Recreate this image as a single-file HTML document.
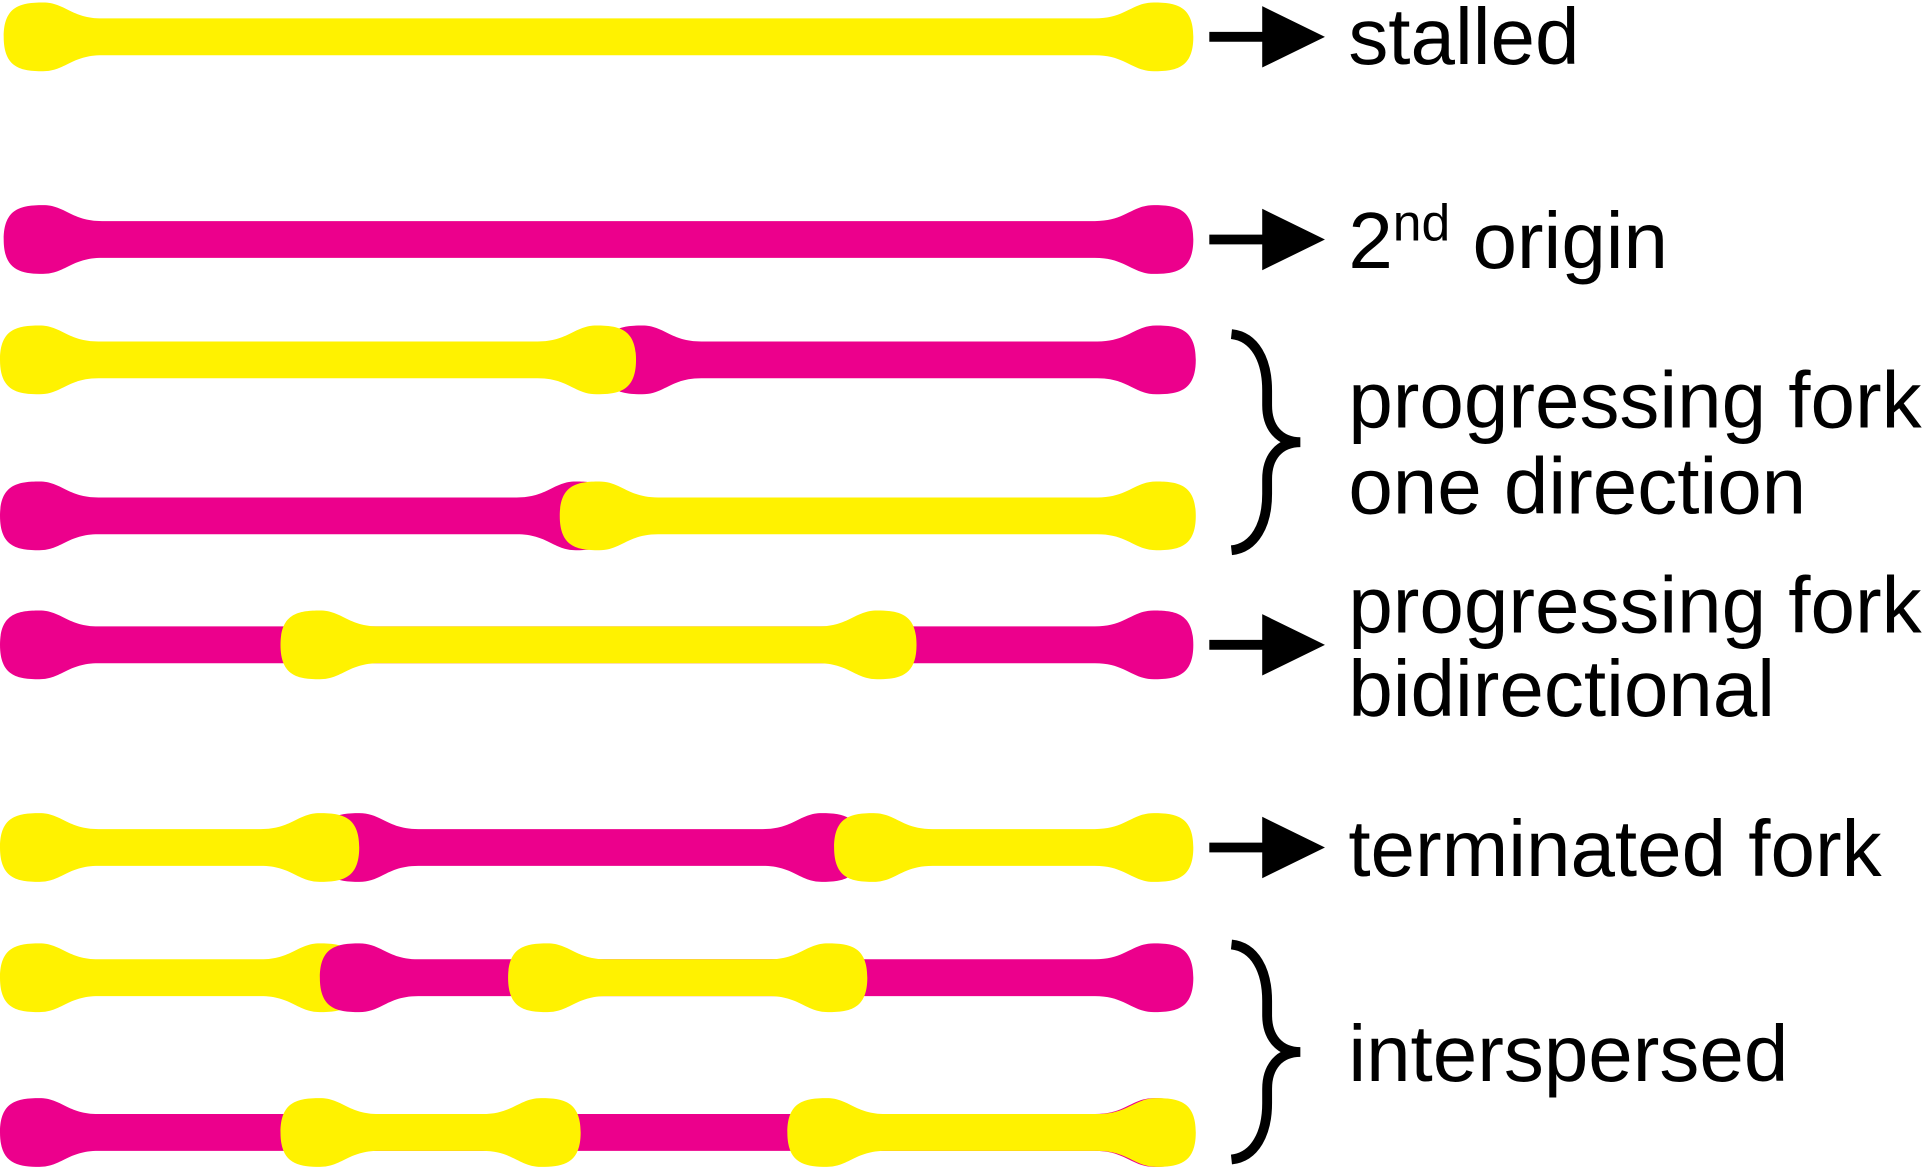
<!DOCTYPE html>
<html><head><meta charset="utf-8"><style>
html,body{margin:0;padding:0;background:#fff;}
svg{display:block;}
text{font-family:"Liberation Sans",Arial,sans-serif;font-size:65px;fill:#000;}
</style></head><body>
<svg id="fig" width="1929" height="1173" viewBox="0 0 1568 955" preserveAspectRatio="none" xmlns="http://www.w3.org/2000/svg">
<g id="fibers"></g>
<g>
<text x="1096" y="52">stalled</text>
<text x="1096" y="218">2<tspan dy="-22" font-size="42">nd</tspan><tspan dy="22"> origin</tspan></text>
<text x="1096" y="348">progressing fork</text>
<text x="1096" y="418">one direction</text>
<text x="1096" y="515">progressing fork</text>
<text x="1096" y="583">bidirectional</text>
<text x="1096" y="713">terminated fork</text>
<text x="1096" y="880">interspersed</text>
</g>
<g id="marks"></g>
</svg>
<script>
const rowY=[30,195,293,420,525,690,796,922];
const rowSegments=[
 [["y",3,970]],
 [["m",3,970]],
 [["m",490,972],["y",0,517]],
 [["m",0,500],["y",455,972]],
 [["m",0,970],["y",228,745]],
 [["m",260,700],["y",0,292],["y",678,970]],
 [["y",0,292],["m",260,970],["y",413,705]],
 [["m",0,970],["y",228,472],["y",640,972]]
];
const arrowY=[30,195,525,690];
const braces=[[268,452],[765,948]];
const NS="http://www.w3.org/2000/svg";
const colors={y:"#fff200",m:"#ec008c"};
const fib=document.getElementById('fibers');
function segPath(x0,x1,c){
  const R=28,t=15;
  const w=x1-x0;const e=Math.min(80,w/3);
  return `M${x0},${c} C${x0},${c-R*0.9} ${x0+14},${c-R} ${x0+32},${c-R} C${x0+50},${c-R} ${x0+55},${c-t} ${x0+e},${c-t} L${x1-e},${c-t} C${x1-55},${c-t} ${x1-50},${c-R} ${x1-32},${c-R} C${x1-14},${c-R} ${x1},${c-R*0.9} ${x1},${c} C${x1},${c+R*0.9} ${x1-14},${c+R} ${x1-32},${c+R} C${x1-50},${c+R} ${x1-55},${c+t} ${x1-e},${c+t} L${x0+e},${c+t} C${x0+55},${c+t} ${x0+50},${c+R} ${x0+32},${c+R} C${x0+14},${c+R} ${x0},${c+R*0.9} ${x0},${c} Z`;
}
rowSegments.forEach((segs,i)=>{
  segs.forEach((s,j)=>{
    const p=document.createElementNS(NS,'path');
    p.setAttribute('d',segPath(s[1],s[2],rowY[i]));
    p.setAttribute('fill',colors[s[0]]);
    
    
    fib.appendChild(p);
  });
});
const mk=document.getElementById('marks');
arrowY.forEach(y=>{
  const p=document.createElementNS(NS,'path');
  p.setAttribute('d',`M983,${y-4} L1026,${y-4} L1026,${y-25} L1077,${y} L1026,${y+25} L1026,${y+4} L983,${y+4} Z`);
  p.setAttribute('fill','#000');
  
  
  mk.appendChild(p);
});
braces.forEach(b=>{
  const [a,z]=b;const m=(a+z)/2;
  const p=document.createElementNS(NS,'path');
  p.setAttribute('d',`M1001,${a+4} C1020,${a+6} 1030,${a+25} 1030,${a+50} L1030,${m-30} C1030,${m-12} 1040,${m} 1057,${m} C1040,${m} 1030,${m+12} 1030,${m+30} L1030,${z-50} C1030,${z-25} 1020,${z-6} 1001,${z-4}`);
  p.setAttribute('fill','none');
  p.setAttribute('stroke','#000');
  p.setAttribute('stroke-width','8');
  
  
  mk.appendChild(p);
});
</script>
</body></html>
